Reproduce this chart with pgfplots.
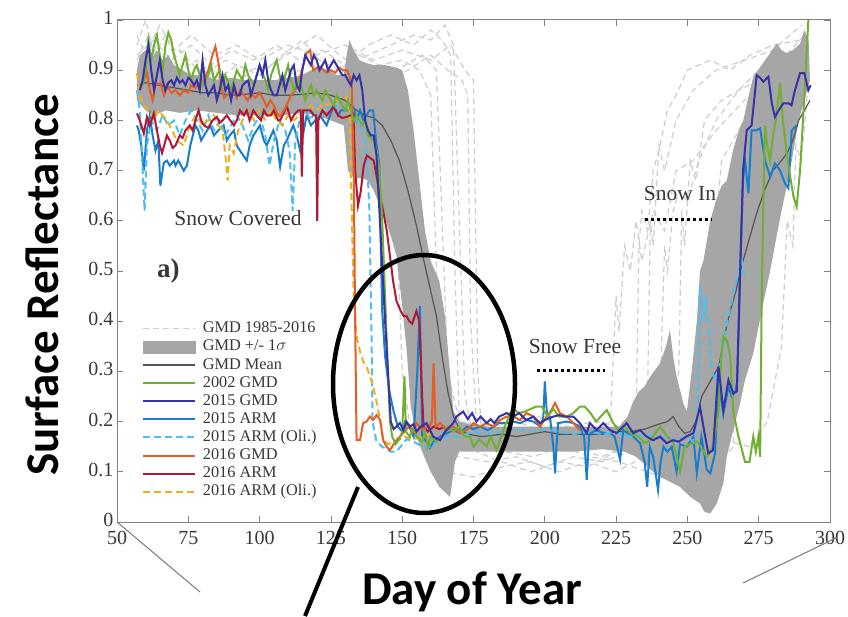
\documentclass[border=0pt]{standalone}
\usepackage{fontspec}
\setmainfont{Liberation Serif}
\newfontfamily\calibri{Carlito}
\usepackage{pgfplots}
\pgfplotsset{compat=1.18}
\definecolor{bandgray}{RGB}{166,166,166}
\definecolor{dashgray}{RGB}{205,205,205}
\definecolor{meangray}{RGB}{85,85,85}
\definecolor{framegray}{RGB}{130,130,130}
\definecolor{labgray}{RGB}{55,55,55}
\definecolor{cgreen}{RGB}{112,175,50}
\definecolor{cindigo}{RGB}{55,50,165}
\definecolor{cblue}{RGB}{25,125,205}
\definecolor{clblue}{RGB}{77,190,238}
\definecolor{corange}{RGB}{228,95,35}
\definecolor{cred}{RGB}{175,25,55}
\definecolor{cyellow}{RGB}{237,177,32}
\pgfplotsset{
  dashyr/.style={color=dashgray, line width=1.2pt, dash pattern=on 6pt off 4pt},
  sgreen/.style={color=cgreen, line width=2pt},
  sindigo/.style={color=cindigo, line width=2pt},
  sblue/.style={color=cblue, line width=2pt},
  slblue/.style={color=clblue, line width=2pt, dash pattern=on 7pt off 4pt},
  sorange/.style={color=corange, line width=2pt},
  sred/.style={color=cred, line width=2pt},
  syellow/.style={color=cyellow, line width=2pt, dash pattern=on 7pt off 4pt},
  smean/.style={color=meangray, line width=1.2pt},
}
\begin{document}
\begin{tikzpicture}
\path[use as bounding box] (0pt,0pt) rectangle (848pt,616pt);
\begin{axis}[
  at={(117pt,94pt)}, anchor=south west, scale only axis,
  width=713pt, height=502pt,
  xmin=50, xmax=300, ymin=0, ymax=1,
  xtick={50,75,100,125,150,175,200,225,250,275,300},
  ytick={0,0.1,0.2,0.3,0.4,0.5,0.6,0.7,0.8,0.9,1},
  tick align=inside, major tick length=6pt,
  axis line style={draw=framegray, line width=1pt},
  every tick/.style={draw=framegray, line width=0.8pt},
  tick label style={font=\fontsize{20}{20}\selectfont, text=labgray},
  xticklabel style={yshift=-6pt},
  yticklabel style={yshift=2pt},
  /pgf/number format/assume math mode=true,
  legend style={at={(axis cs:57.6,0.405)}, anchor=north west, draw=none, fill=none,
    font=\fontsize{16.3}{16.3}\selectfont, text=labgray,
    nodes={inner sep=0pt, text height=12pt, text depth=4pt},
    row sep=2.1pt, cells={anchor=west},
    /tikz/every odd column/.append style={column sep=7pt}},
  legend image code/.code={\draw[#1] (0pt,0pt) -- (52pt,0pt);},
]
% ---------- GMD 1985-2016 individual years ----------
\addplot[dashyr, forget plot] coordinates {(57,0.95)(60,1.0)(63,0.93)(67,0.97)(72,0.9)(78,0.92)(85,0.88)(92,0.91)(100,0.89)(108,0.93)(115,0.96)(121,0.92)(128,0.9)(135,0.93)(142,0.91)(150,0.92)(156,0.9)(160,0.85)(162,0.5)(164,0.22)(170,0.17)(180,0.15)(190,0.16)(200,0.14)(210,0.15)(220,0.13)(228,0.15)(232,0.2)(233,0.55)(234,0.62)(236,0.58)(238,0.7)(240,0.74)(243,0.82)(246,0.85)(250,0.9)(258,0.92)(265,0.9)(272,0.93)(280,0.95)(290,0.96)};
\addplot[dashyr, forget plot] coordinates {(57,0.88)(62,0.9)(68,0.86)(75,0.88)(82,0.9)(90,0.87)(98,0.85)(106,0.88)(114,0.9)(122,0.87)(130,0.9)(138,0.93)(146,0.95)(154,0.97)(160,0.96)(165,0.99)(168,0.95)(170,0.6)(172,0.25)(176,0.14)(185,0.12)(195,0.10)(205,0.12)(215,0.11)(225,0.14)(235,0.16)(240,0.18)(242,0.55)(243,0.5)(245,0.62)(247,0.66)(250,0.64)(254,0.72)(260,0.8)(268,0.86)(275,0.9)(283,0.92)(291,0.97)};
\addplot[dashyr, forget plot] coordinates {(57,0.92)(61,0.97)(66,0.9)(72,0.94)(80,0.89)(88,0.92)(96,0.9)(104,0.91)(112,0.94)(120,0.97)(128,0.93)(136,0.9)(144,0.88)(152,0.9)(160,0.93)(166,0.9)(171,0.88)(173,0.85)(174,0.4)(176,0.2)(182,0.18)(192,0.17)(202,0.19)(212,0.18)(222,0.17)(232,0.2)(240,0.17)(248,0.15)(252,0.16)(256,0.18)(258,0.55)(260,0.6)(262,0.72)(266,0.76)(270,0.8)(275,0.84)(282,0.86)(292,0.9)};
\addplot[dashyr, forget plot] coordinates {(57,0.86)(63,0.84)(70,0.87)(78,0.83)(86,0.86)(94,0.84)(102,0.86)(110,0.83)(118,0.85)(126,0.82)(134,0.8)(142,0.78)(148,0.7)(152,0.55)(155,0.35)(158,0.15)(165,0.1)(175,0.09)(185,0.11)(195,0.12)(205,0.1)(215,0.12)(225,0.1)(235,0.13)(245,0.15)(255,0.17)(265,0.16)(272,0.15)(278,0.2)(283,0.35)(285,0.6)(287,0.55)(288,0.75)(290,0.72)(292,0.85)};
\addplot[dashyr, forget plot] coordinates {(57,0.9)(64,0.93)(71,0.88)(79,0.9)(87,0.87)(95,0.89)(103,0.86)(111,0.88)(119,0.9)(127,0.88)(135,0.86)(143,0.88)(151,0.91)(157,0.93)(162,0.9)(164,0.6)(166,0.3)(170,0.2)(180,0.19)(190,0.2)(200,0.18)(210,0.17)(218,0.18)(223,0.2)(225,0.45)(226,0.38)(228,0.55)(230,0.5)(232,0.6)(234,0.52)(238,0.62)(242,0.58)(246,0.7)(252,0.72)(260,0.78)(270,0.84)(280,0.88)(290,0.9)};
\addplot[dashyr, forget plot] coordinates {(57,0.97)(60,0.93)(65,0.99)(70,0.94)(76,0.97)(84,0.93)(92,0.95)(100,0.92)(110,0.95)(120,0.93)(130,0.95)(140,0.92)(150,0.94)(160,0.92)(167,0.95)(172,0.9)(175,0.88)(176.5,0.3)(178,0.16)(186,0.14)(196,0.13)(206,0.15)(216,0.13)(226,0.12)(236,0.1)(246,0.08)(256,0.1)(262,0.12)(266,0.15)(268,0.4)(269,0.35)(270,0.55)(272,0.5)(275,0.65)(278,0.6)(282,0.72)(286,0.8)(291,0.88)};
\addplot[dashyr, forget plot] coordinates {(57,0.84)(62,0.88)(69,0.85)(77,0.87)(85,0.84)(93,0.86)(101,0.83)(109,0.85)(117,0.88)(125,0.86)(133,0.84)(140,0.82)(145,0.8)(148,0.6)(150,0.3)(153,0.18)(160,0.14)(170,0.13)(180,0.12)(190,0.13)(200,0.11)(210,0.13)(220,0.12)(230,0.14)(238,0.17)(244,0.2)(247,0.3)(248,0.62)(249,0.55)(251,0.72)(253,0.68)(256,0.8)(262,0.84)(268,0.86)(275,0.88)(285,0.9)(292,0.93)};
\addplot[dashyr, forget plot] coordinates {(57,0.93)(63,0.96)(69,0.92)(76,0.95)(83,0.91)(90,0.94)(98,0.92)(106,0.95)(114,0.92)(122,0.94)(130,0.91)(138,0.95)(146,0.97)(154,0.95)(160,0.98)(164,0.96)(167,0.93)(168.5,0.5)(170,0.2)(178,0.19)(188,0.2)(198,0.21)(208,0.19)(218,0.2)(226,0.19)(232,0.21)(236,0.24)(237,0.6)(238,0.55)(240,0.75)(242,0.7)(246,0.8)(252,0.86)(260,0.9)(270,0.92)(280,0.94)(290,0.99)};
% ---------- GMD +/- 1 sigma band ----------
\addplot[fill=bandgray, draw=none, forget plot] coordinates {
(57,0.90)(58,0.93)(60,0.94)(62,0.92)(64,0.94)(66,0.92)(68,0.93)(70,0.91)(73,0.90)(76,0.89)(80,0.89)(85,0.88)(90,0.885)(95,0.88)(100,0.88)(105,0.88)(110,0.885)(115,0.89)(118,0.90)(121,0.905)(124,0.90)(127,0.89)(129.5,0.89)(130.5,0.93)(131.5,0.96)(133,0.94)(135,0.92)(137,0.915)(140,0.91)(144,0.91)(148,0.905)(150,0.90)(152,0.86)(154,0.78)(156,0.68)(158,0.58)(160,0.52)(163,0.48)(165,0.41)(167,0.28)(168,0.22)(170,0.20)(173,0.195)(180,0.19)(190,0.19)(200,0.19)(210,0.19)(220,0.19)(226,0.19)(229,0.21)(231,0.24)(233,0.26)(235,0.27)(237,0.29)(240.4,0.316)(242.5,0.35)(243.9,0.383)(245,0.33)(246.2,0.29)(248.6,0.236)(249.8,0.22)(251.5,0.30)(253.3,0.40)(254.4,0.50)(255.6,0.52)(258,0.60)(260,0.64)(262,0.67)(263.8,0.68)(266,0.74)(268,0.78)(269.6,0.80)(271.5,0.85)(273.1,0.887)(276,0.91)(278.5,0.93)(281.3,0.953)(283,0.94)(284.8,0.934)(287,0.94)(289.5,0.953)(291,0.98)(292.5,0.96)
(293,0.88)(291,0.84)(289,0.80)(286.6,0.72)(284.8,0.668)(283,0.62)(281.3,0.57)(279,0.50)(276.6,0.436)(273.1,0.336)(270.2,0.283)(268.5,0.237)(265.5,0.17)(263.8,0.13)(262.6,0.077)(260.3,0.037)(258,0.017)(256,0.02)(254.4,0.037)(251,0.05)(247.4,0.07)(243.9,0.08)(240.4,0.09)(238,0.10)(235,0.115)(232,0.13)(228,0.14)(220,0.145)(210,0.14)(200,0.14)(190,0.14)(180,0.14)(173,0.14)(170,0.14)(168.5,0.12)(166.8,0.05)(163,0.07)(160,0.10)(157,0.14)(155,0.17)(153,0.23)(151.6,0.34)(150,0.43)(148,0.53)(146,0.57)(143,0.62)(140,0.66)(138,0.68)(136,0.685)(133,0.685)(131,0.70)(129.5,0.79)(125,0.80)(120,0.81)(115,0.815)(108,0.81)(100,0.81)(92,0.81)(85,0.815)(78,0.82)(72,0.815)(67,0.82)(63,0.81)(60,0.82)(57,0.84)};
% ---------- GMD mean ----------
\addplot[smean, forget plot] coordinates {(57,0.87)(60,0.875)(65,0.87)(70,0.865)(75,0.86)(80,0.855)(85,0.855)(90,0.85)(95,0.852)(100,0.855)(105,0.85)(110,0.85)(115,0.852)(120,0.855)(125,0.85)(130,0.84)(134,0.82)(137,0.81)(140,0.805)(143,0.79)(146,0.76)(149,0.72)(152,0.66)(155,0.59)(158,0.51)(160,0.46)(162,0.41)(164,0.33)(166,0.26)(168,0.21)(170,0.185)(173,0.175)(178,0.17)(185,0.175)(190,0.17)(195,0.175)(200,0.18)(205,0.175)(210,0.175)(215,0.175)(220,0.175)(225,0.18)(230,0.18)(235,0.185)(240,0.195)(243,0.20)(245,0.21)(247,0.19)(249,0.177)(251,0.18)(253,0.20)(255,0.25)(257,0.27)(259,0.29)(261,0.31)(263,0.37)(265,0.42)(267,0.46)(269,0.51)(271,0.55)(274,0.61)(277,0.66)(280,0.70)(283,0.72)(285,0.735)(287,0.76)(289,0.80)(291,0.82)(293,0.84)};
% ---------- 2015 ARM ----------
\addplot[sblue, forget plot] coordinates {(57,0.79)(57.6,0.78)(58.5,0.75)(59.4,0.70)(60.5,0.78)(61.5,0.81)(62.5,0.77)(63.5,0.74)(64.5,0.76)(65.2,0.67)(66.4,0.715)(67.5,0.72)(68.5,0.71)(70,0.72)(70.5,0.71)(71.5,0.72)(73.4,0.70)(74.5,0.71)(75.7,0.75)(77.5,0.79)(78.5,0.78)(79.5,0.76)(80.5,0.77)(82.7,0.79)(84,0.77)(85.5,0.78)(87.4,0.79)(88.5,0.76)(89.5,0.77)(91,0.78)(92,0.75)(93.1,0.74)(95.5,0.72)(96.5,0.75)(97.8,0.77)(99,0.78)(100.1,0.79)(101.5,0.76)(102.5,0.75)(104.8,0.78)(106,0.76)(107.2,0.708)(108.5,0.75)(109.5,0.76)(111.8,0.79)(113,0.77)(114.2,0.74)(115.5,0.78)(116.5,0.81)(118,0.79)(119.5,0.80)(121.2,0.81)(123.5,0.79)(125.9,0.83)(127.5,0.81)(128.5,0.82)(130.5,0.82)(132.9,0.827)(134,0.80)(135.2,0.82)(136.4,0.80)(137.5,0.81)(138.5,0.82)(139.8,0.82)(140.8,0.76)(142,0.71)(142.5,0.55)(143,0.42)(144,0.33)(145.5,0.26)(147,0.22)(148.5,0.19)(150,0.18)(151,0.20)(152.5,0.19)(154,0.17)(155.3,0.30)(156.2,0.43)(157,0.17)(158.5,0.16)(159.7,0.148)(161,0.16)(163.3,0.17)(165,0.175)(168,0.183)(170.3,0.177)(172.6,0.19)(175,0.185)(177.3,0.19)(180,0.183)(182,0.19)(184,0.197)(186.6,0.197)(189,0.2)(191.3,0.197)(193.6,0.203)(196,0.20)(198.5,0.19)(199.5,0.21)(200,0.28)(200.8,0.21)(201.8,0.21)(203,0.15)(203.6,0.097)(204.1,0.15)(204.7,0.197)(207.7,0.20)(210,0.197)(212.3,0.19)(213.8,0.17)(214.7,0.084)(215.5,0.17)(216,0.177)(218.2,0.183)(220.5,0.177)(222.9,0.177)(224.5,0.17)(226.4,0.124)(227.5,0.183)(231,0.17)(233.4,0.157)(235,0.12)(235.9,0.07)(236.8,0.15)(238,0.13)(239.7,0.064)(240.6,0.12)(241.6,0.15)(243,0.14)(244.5,0.15)(246.2,0.10)(247.4,0.155)(249.8,0.15)(252.1,0.17)(253.3,0.097)(254.9,0.17)(256.8,0.104)(258,0.097)(259.7,0.137)(260.9,0.283)(262.6,0.215)(264.4,0.27)(265.5,0.25)(266.8,0.26)(267.5,0.28)(268.5,0.50)(269.5,0.68)(270.2,0.72)(271.4,0.655)(272.5,0.78)(274,0.78)(275.5,0.784)(277.2,0.72)(279,0.688)(280.7,0.714)(282.5,0.70)(284.2,0.675)(285.4,0.665)(286.6,0.78)(288.3,0.79)};
% ---------- 2015 ARM (Oli.) ----------
\addplot[slblue, forget plot] coordinates {(57,0.86)(58,0.82)(59,0.70)(59.7,0.62)(60.5,0.75)(62,0.80)(64,0.78)(66,0.81)(68,0.79)(70,0.80)(72,0.77)(74,0.80)(76,0.82)(78,0.80)(80,0.78)(82,0.81)(84,0.78)(86,0.80)(88,0.77)(90,0.79)(92,0.81)(94,0.79)(96,0.76)(98,0.79)(100,0.81)(102,0.77)(103.5,0.71)(105,0.76)(107,0.80)(109,0.78)(110.5,0.74)(111.6,0.62)(112.5,0.76)(114,0.80)(116,0.82)(118,0.80)(120,0.83)(122,0.81)(124,0.83)(126,0.82)(128,0.84)(130,0.82)(132,0.83)(134,0.80)(136,0.78)(137.5,0.74)(138.5,0.62)(139.3,0.35)(139.6,0.20)(141,0.16)(143,0.15)(146,0.14)(148,0.14)(151.5,0.165)(154,0.16)(157,0.15)(160,0.15)(163,0.165)(166,0.17)(170,0.17)(175,0.18)(180,0.175)(185,0.18)(190,0.185)(195,0.18)(200,0.185)(205,0.18)(210,0.175)(215,0.18)(220,0.175)(225,0.18)(230,0.17)(235,0.175)(240,0.17)(245,0.165)(250,0.17)(252,0.16)(253.5,0.2)(254.4,0.47)(255.5,0.40)(256.5,0.45)(257.5,0.38)(258.5,0.30)(260,0.28)(262,0.33)(264,0.40)(266,0.45)(268,0.50)(269,0.52)(270,0.49)};
% ---------- 2016 ARM (Oli.) ----------
\addplot[syellow, forget plot] coordinates {(57,0.894)(58.2,0.847)(59.5,0.83)(61,0.82)(62.9,0.80)(64.5,0.82)(66,0.81)(67.5,0.80)(69.3,0.78)(71,0.76)(73.4,0.75)(75,0.78)(76.5,0.80)(78,0.81)(80,0.79)(82,0.80)(84,0.81)(85.5,0.79)(87,0.78)(88.2,0.72)(88.8,0.68)(89.5,0.75)(90.9,0.734)(92.5,0.78)(94,0.80)(96,0.82)(98,0.80)(100,0.82)(102,0.80)(104,0.82)(106,0.80)(108,0.79)(110,0.81)(112,0.80)(114,0.81)(116,0.82)(118,0.83)(120,0.82)(122.3,0.834)(124,0.83)(126,0.84)(128,0.84)(130.5,0.847)(131.5,0.82)(132.4,0.60)(133,0.45)(134,0.37)(135.2,0.34)(136.3,0.32)(137.5,0.31)(138.7,0.29)(139.8,0.27)(141,0.24)(142,0.21)(142.6,0.19)(143.3,0.165)(145,0.155)(147,0.16)(149,0.165)(151,0.17)(154,0.165)(157,0.17)(160,0.175)};
% ---------- 2016 ARM ----------
\addplot[sred, forget plot] coordinates {(57,0.814)(58,0.80)(59.4,0.774)(60.5,0.807)(61.5,0.79)(62.9,0.814)(64,0.78)(65,0.75)(65.8,0.735)(67.5,0.77)(68.5,0.76)(69.5,0.745)(70.5,0.75)(72,0.77)(73,0.765)(74,0.78)(75.5,0.79)(76.5,0.78)(77.5,0.80)(78.6,0.82)(79.5,0.80)(80.5,0.79)(82,0.785)(83.5,0.80)(85,0.807)(86,0.795)(87,0.80)(88.5,0.81)(89.7,0.80)(91,0.79)(92,0.80)(93.1,0.82)(94.5,0.81)(95.5,0.82)(96.5,0.80)(97.8,0.82)(99,0.81)(100.5,0.80)(101.5,0.82)(102.5,0.81)(104,0.81)(105,0.82)(106.5,0.80)(107.2,0.80)(108.5,0.815)(109.5,0.83)(111,0.80)(112,0.81)(113.5,0.82)(114.4,0.82)(114.8,0.688)(115.3,0.82)(116.5,0.82)(117.8,0.82)(119,0.81)(119.8,0.81)(120.2,0.60)(120.6,0.80)(122,0.82)(123.5,0.81)(125.9,0.827)(127.5,0.81)(129,0.805)(130.5,0.807)(132,0.81)(132.9,0.814)(133.5,0.70)(134.5,0.63)(135.5,0.66)(136.5,0.71)(137.6,0.73)(138.8,0.725)(140,0.72)(141,0.69)(142,0.655)(143.3,0.62)(144.6,0.58)(145.7,0.53)(146.8,0.48)(148,0.44)(149.5,0.42)(150.5,0.41)(151.5,0.41)(152.5,0.40)(153.5,0.395)(155,0.42)(156,0.40)(156.5,0.33)(157,0.25)(157.5,0.19)(159,0.18)(161,0.19)(163,0.185)(165,0.19)};
% ---------- 2016 GMD ----------
\addplot[sorange, forget plot] coordinates {(58.2,0.867)(59.3,0.88)(60.5,0.894)(61.5,0.86)(62.5,0.84)(63.5,0.87)(65.2,0.874)(66.5,0.85)(67.5,0.87)(69,0.855)(70.5,0.86)(72,0.85)(73.4,0.86)(75,0.855)(76,0.87)(77.5,0.865)(79,0.875)(80.5,0.88)(82,0.90)(83.5,0.93)(84.5,0.947)(85.6,0.914)(86.5,0.87)(87.5,0.845)(88.5,0.85)(89.7,0.854)(91,0.86)(92,0.845)(93.1,0.86)(94.5,0.85)(95.8,0.84)(97,0.855)(98.5,0.845)(100,0.855)(101.5,0.84)(102.5,0.827)(103.8,0.84)(105,0.83)(106,0.815)(107.2,0.807)(108.5,0.82)(109.5,0.83)(111,0.85)(112.5,0.86)(114.2,0.887)(115.3,0.91)(116.5,0.934)(117.7,0.94)(118.8,0.90)(120,0.905)(121.2,0.907)(122.5,0.90)(123.5,0.895)(125,0.90)(126.5,0.895)(128,0.905)(129.3,0.90)(130.5,0.90)(131.5,0.89)(132.3,0.87)(133,0.70)(133.5,0.40)(134,0.163)(135.2,0.163)(136.3,0.197)(137.5,0.20)(138.7,0.21)(139.8,0.203)(141,0.213)(142.3,0.203)(143.3,0.163)(144.5,0.15)(145.7,0.143)(147,0.155)(148,0.163)(149.2,0.17)(150.3,0.177)(151.5,0.185)(152.6,0.19)(153.8,0.18)(155,0.197)(156,0.19)(157,0.183)(158.3,0.19)(159.5,0.19)(160.4,0.20)(161,0.316)(161.7,0.19)(163.25,0.197)(165.6,0.183)(167.9,0.19)(170.3,0.177)(172.6,0.183)(175,0.197)(177.3,0.19)(179.6,0.197)(182,0.19)(184.3,0.203)(186.6,0.21)(189,0.21)(191.3,0.203)(193.6,0.217)(196,0.21)(198.3,0.19)(200.6,0.21)(202,0.22)(203.6,0.237)(205.3,0.217)(207.7,0.21)(210,0.197)(212.3,0.183)};
% ---------- 2002 GMD ----------
\addplot[sgreen, forget plot] coordinates {(59,0.87)(60,0.90)(61,0.96)(62,0.92)(63,0.95)(64,0.97)(65,0.93)(66,0.90)(67,0.95)(68,0.975)(69,0.96)(70,0.93)(71,0.91)(72,0.89)(73,0.91)(74,0.93)(75,0.90)(76,0.88)(77,0.90)(78,0.91)(79,0.89)(80,0.87)(82,0.89)(83,0.91)(84,0.88)(86,0.90)(87,0.87)(88,0.89)(90,0.86)(91,0.88)(92,0.90)(94,0.88)(95,0.91)(96,0.89)(98,0.87)(99,0.89)(100,0.91)(102,0.88)(103,0.86)(104,0.89)(106,0.92)(107,0.89)(108,0.87)(110,0.91)(111,0.88)(112,0.86)(114,0.88)(115,0.86)(116,0.84)(118,0.87)(119,0.85)(120,0.86)(122,0.84)(123,0.86)(124,0.85)(126,0.83)(127,0.85)(128,0.84)(130,0.82)(131,0.84)(132,0.82)(133,0.80)(134,0.81)(136,0.79)(137,0.80)(138,0.77)(140,0.76)(141,0.74)(142,0.70)(143,0.60)(144,0.45)(145,0.30)(145.7,0.20)(146.5,0.17)(147.7,0.155)(149,0.165)(150,0.18)(150.8,0.29)(151.3,0.18)(152.7,0.17)(154,0.19)(155,0.17)(157,0.16)(158,0.18)(159,0.15)(160,0.17)(162,0.16)(164,0.17)(166,0.19)(168,0.18)(170,0.19)(172,0.17)(173.8,0.17)(175,0.15)(177,0.165)(179.6,0.15)(181,0.17)(183.1,0.143)(185.5,0.183)(187.8,0.217)(189,0.225)(191,0.217)(193,0.22)(195,0.225)(197,0.23)(199,0.23)(201,0.21)(203,0.225)(205,0.21)(207.7,0.21)(210,0.217)(212.3,0.23)(214,0.23)(216,0.217)(218,0.20)(221.7,0.223)(224,0.197)(226,0.183)(228,0.19)(230,0.177)(233,0.17)(235,0.157)(237,0.163)(240.4,0.19)(243,0.17)(245,0.16)(247.4,0.10)(249,0.15)(251,0.155)(253.5,0.16)(256.8,0.13)(259,0.15)(260.9,0.22)(262,0.34)(262.6,0.37)(264,0.36)(265,0.33)(266.1,0.22)(267.9,0.17)(270.2,0.12)(271.8,0.12)(273.1,0.17)(274,0.14)(274.9,0.17)(275.5,0.13)(276,0.42)(276.5,0.60)(277.2,0.79)(278,0.75)(279,0.72)(280,0.77)(281,0.80)(282.5,0.874)(283.5,0.80)(284.8,0.734)(286,0.69)(287.2,0.648)(288.3,0.628)(289.5,0.70)(291.2,0.867)(292.4,1.0)};
% ---------- 2015 GMD ----------
\addplot[sindigo, forget plot] coordinates {(58,0.86)(59,0.88)(60,0.92)(61,0.95)(62,0.90)(63,0.86)(64,0.89)(65,0.92)(66,0.88)(67,0.86)(68,0.875)(69,0.88)(70,0.87)(71,0.885)(72,0.875)(73,0.88)(74,0.87)(75,0.885)(76,0.88)(77,0.87)(78,0.88)(79,0.86)(80,0.92)(81,0.87)(82,0.85)(83,0.86)(84,0.87)(85,0.84)(86,0.86)(87,0.89)(88,0.86)(89,0.87)(90,0.84)(91,0.87)(92,0.85)(93,0.85)(94,0.87)(96,0.88)(97,0.85)(98,0.87)(99,0.89)(100,0.91)(101,0.89)(102,0.92)(103,0.88)(104,0.86)(105,0.85)(106,0.85)(107,0.87)(108,0.89)(109,0.86)(110,0.88)(111,0.90)(112,0.91)(113,0.87)(114,0.86)(115,0.90)(116,0.93)(117,0.92)(118,0.91)(119,0.93)(120,0.92)(121,0.90)(122,0.91)(123,0.92)(124,0.90)(125,0.91)(126,0.92)(127,0.91)(128,0.90)(129,0.89)(130,0.89)(131,0.88)(132,0.87)(133,0.89)(134,0.88)(135,0.89)(136,0.86)(137,0.80)(138,0.78)(139,0.77)(140,0.77)(141,0.73)(142,0.62)(143,0.51)(144,0.40)(145,0.30)(146,0.20)(147,0.185)(148,0.19)(149.2,0.197)(150.4,0.183)(151.5,0.20)(152.7,0.19)(154,0.195)(155,0.18)(156.5,0.19)(158.5,0.197)(160.9,0.17)(163.3,0.163)(165,0.18)(167.9,0.197)(169,0.21)(171.4,0.22)(173,0.205)(174.5,0.217)(176,0.20)(177.5,0.21)(179.6,0.197)(181,0.205)(182.3,0.197)(184,0.21)(186.6,0.217)(189,0.21)(191,0.217)(193.5,0.203)(196,0.21)(198.3,0.197)(200,0.203)(203,0.21)(205,0.213)(207,0.21)(210,0.21)(212.3,0.197)(214.7,0.177)(215.8,0.197)(218.2,0.183)(220.5,0.197)(222.9,0.183)(225.2,0.177)(228.7,0.197)(231,0.177)(233.4,0.183)(235.7,0.17)(238,0.163)(240.4,0.17)(242.7,0.157)(245,0.163)(247,0.16)(249.5,0.17)(252.1,0.177)(254.4,0.23)(255.6,0.19)(257.3,0.137)(259,0.143)(260.9,0.31)(262.6,0.223)(264.4,0.283)(266.1,0.256)(267.3,0.26)(268.5,0.50)(269.5,0.70)(270.8,0.78)(272.5,0.79)(274.3,0.89)(275.5,0.885)(276.6,0.877)(278.4,0.887)(279.6,0.834)(280.7,0.807)(282,0.82)(283.6,0.834)(285.5,0.834)(286.5,0.83)(287.7,0.86)(289.5,0.894)(291,0.894)(292.4,0.86)(293.2,0.87)};
% ---------- legend ----------
\addlegendimage{dashyr}\addlegendentry{GMD 1985-2016}
\addlegendimage{legend image code/.code={\fill[bandgray] (0pt,-6pt) rectangle (52pt,6pt);}}\addlegendentry{GMD +/- 1$\sigma$}
\addlegendimage{smean}\addlegendentry{GMD Mean}
\addlegendimage{sgreen}\addlegendentry{2002 GMD}
\addlegendimage{sindigo}\addlegendentry{2015 GMD}
\addlegendimage{sblue}\addlegendentry{2015 ARM}
\addlegendimage{slblue}\addlegendentry{2015 ARM (Oli.)}
\addlegendimage{sorange}\addlegendentry{2016 GMD}
\addlegendimage{sred}\addlegendentry{2016 ARM}
\addlegendimage{syellow}\addlegendentry{2016 ARM (Oli.)}
% ---------- annotations ----------
\node[font=\fontsize{21.5}{21.5}\selectfont, text=labgray] at (axis cs:92.4,0.606) {Snow Covered};
\node[font=\fontsize{21.5}{21.5}\selectfont, text=labgray] at (axis cs:210.6,0.35) {Snow Free};
\node[font=\fontsize{21.5}{21.5}\selectfont, text=labgray] at (axis cs:247.4,0.655) {Snow In};
\node[font=\bfseries\fontsize{27}{27}\selectfont, text=labgray] at (axis cs:68,0.50) {a)};
\draw[black, line width=3pt, dash pattern=on 3pt off 3pt] (axis cs:197.2,0.301) -- (axis cs:221.1,0.301);
\draw[black, line width=3pt, dash pattern=on 3pt off 3pt] (axis cs:235.1,0.602) -- (axis cs:258.6,0.602);
\end{axis}
% perspective lines
\draw[framegray, line width=1.1pt] (117pt,94pt) -- (200pt,24pt);
\draw[framegray, line width=1.1pt] (838pt,79pt) -- (743pt,33pt);
% highlight ellipse and pointer
\draw[black, line width=4.5pt] (424pt,232pt) ellipse [x radius=91pt, y radius=129pt];
\draw[black, line width=4pt] (358pt,129pt) -- (305pt,0pt);
% axis titles
\node[font=\calibri\bfseries\fontsize{47}{47}\selectfont, rotate=90] at (42pt,331pt) {Surface Reflectance};
\node[font=\calibri\bfseries\fontsize{47}{47}\selectfont] at (472pt,24pt) {Day of Year};
\end{tikzpicture}
\end{document}
